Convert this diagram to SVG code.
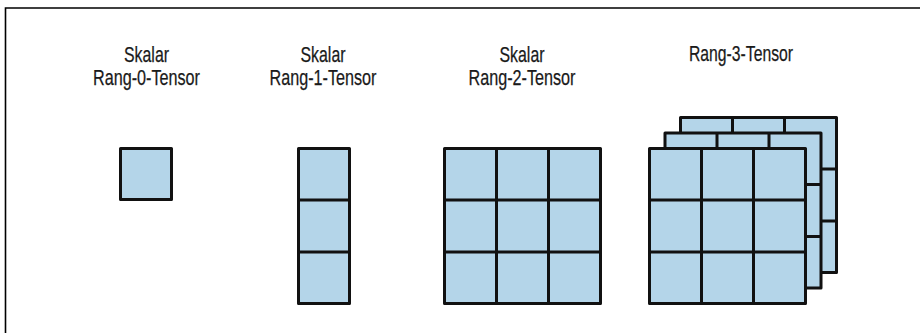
<svg xmlns="http://www.w3.org/2000/svg" width="920" height="333" viewBox="0 0 920 333">
<style>
.cell{fill:#b4d5e9;stroke:#111;stroke-width:3;stroke-linejoin:round}
.grid{fill:none;stroke:#111;stroke-width:3}
.lbl{font-family:"Liberation Sans",Arial,sans-serif;font-size:22px;fill:#1a1a1a;stroke:#1a1a1a;stroke-width:0.25;text-anchor:middle}
.frame{fill:none;stroke:#000;stroke-width:1.6}
</style>
<rect width="920" height="333" fill="#fff"/>
<path class="frame" d="M5.5,333 V8 H920"/>
<g id="rang0">
<text class="lbl" x="146.5" y="61.5" textLength="45" lengthAdjust="spacingAndGlyphs">Skalar</text>
<text class="lbl" x="146.5" y="85" textLength="107" lengthAdjust="spacingAndGlyphs">Rang-0-Tensor</text>
<rect class="cell" x="120.5" y="148.5" width="51" height="51"/>
</g>
<g id="rang1">
<text class="lbl" x="323" y="61.5" textLength="45" lengthAdjust="spacingAndGlyphs">Skalar</text>
<text class="lbl" x="323" y="85" textLength="107" lengthAdjust="spacingAndGlyphs">Rang-1-Tensor</text>
<rect class="cell" x="298.5" y="148.5" width="51" height="155"/>
<path class="grid" d="M298.5,200 H349.5 M298.5,252 H349.5"/>
</g>
<g id="rang2">
<text class="lbl" x="522" y="61.5" textLength="45" lengthAdjust="spacingAndGlyphs">Skalar</text>
<text class="lbl" x="522" y="85" textLength="107" lengthAdjust="spacingAndGlyphs">Rang-2-Tensor</text>
<rect class="cell" x="444.5" y="148.5" width="156" height="155"/>
<path class="grid" d="M496.5,148.5 V303.5 M548.5,148.5 V303.5 M444.5,200 H600.5 M444.5,252 H600.5"/>
</g>
<g id="rang3">
<text class="lbl" x="741" y="61" textLength="104" lengthAdjust="spacingAndGlyphs">Rang-3-Tensor</text>
<g id="rang3-back" transform="translate(31,-31)">
<rect class="cell" x="649.5" y="148.5" width="156" height="155"/>
<path class="grid" d="M701.5,148.5 V303.5 M753.5,148.5 V303.5 M649.5,200 H805.5 M649.5,252 H805.5"/>
</g>
<g id="rang3-mid" transform="translate(15.5,-15.5)">
<rect class="cell" x="649.5" y="148.5" width="156" height="155"/>
<path class="grid" d="M701.5,148.5 V303.5 M753.5,148.5 V303.5 M649.5,200 H805.5 M649.5,252 H805.5"/>
</g>
<g id="rang3-front">
<rect class="cell" x="649.5" y="148.5" width="156" height="155"/>
<path class="grid" d="M701.5,148.5 V303.5 M753.5,148.5 V303.5 M649.5,200 H805.5 M649.5,252 H805.5"/>
</g>
</g>
</svg>
